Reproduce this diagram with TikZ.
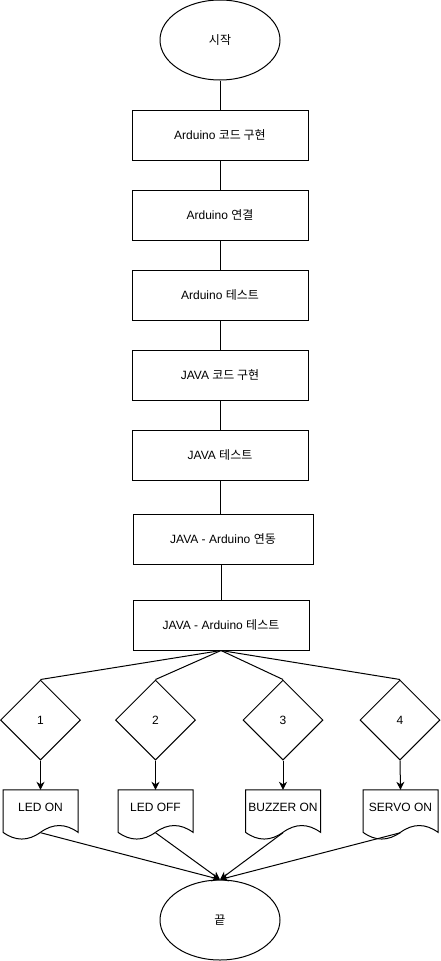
\documentclass[tikz,border=0pt]{standalone}
\usepackage{fontspec}
\setmainfont{Liberation Sans}
\newfontfamily\kr{Noto Sans CJK KR}
\usepackage{tikz}
\usetikzlibrary{shapes,arrows.meta}
\tikzstyle{terminal} = [ellipse, draw, line width=1pt, minimum width=120pt, minimum height=80pt, inner sep=0pt]
\tikzstyle{procbox} = [rectangle, draw, line width=1pt, minimum width=176pt, minimum height=50pt, inner sep=0pt, align=center]
\tikzstyle{decision} = [diamond, draw, line width=1pt, minimum width=80pt, minimum height=80pt, inner sep=0pt]
\tikzstyle{docbox} = [rectangle, minimum width=75pt, minimum height=35pt, inner sep=0pt, align=center]
\tikzstyle{plain} = [draw, line width=1pt]
\tikzstyle{line} = [draw, line width=1pt, -{Stealth[length=8pt, width=8pt, inset=2.5pt]}]
\newcommand{\docshape}[1]{%
  \draw [line width=1pt, shift={(#1.north)}] (-37.5,0) -- (37.5,0) -- (37.5,42.5)
    .. controls (25,33.5) and (12.5,33.5) .. (0,42.5)
    .. controls (-12.5,51.5) and (-25,51.5) .. (-37.5,42.5) -- cycle;}

\begin{document}
\begin{tikzpicture}[x=1pt, y=-1pt, font=\fontsize{12}{14}\selectfont]
\useasboundingbox (0,0) rectangle (441,961);

\node [terminal] at (220, 40) (start) {\kr 시작};

% steps

\node [procbox] at (220, 135) (ardcode) {Arduino {\kr 코드 구현}};
\node [procbox] at (220, 215) (ardconn) {Arduino {\kr 연결}};
\node [procbox] at (220, 295) (ardtest) {Arduino {\kr 테스트}};
\node [procbox] at (220, 375) (javacode) {JAVA {\kr 코드 구현}};
\node [procbox] at (220, 455) (javatest) {JAVA {\kr 테스트}};
\node [procbox, minimum width=180pt] at (223, 539) (link) {JAVA - Arduino {\kr 연동}};
\node [procbox] at (221, 625) (linktest) {JAVA - Arduino {\kr 테스트}};

\path [plain] (start.south) to (ardcode.north);
\path [plain] (ardcode.south) to (ardconn.north);
\path [plain] (ardconn.south) to (ardtest.north);
\path [plain] (ardtest.south) to (javacode.north);
\path [plain] (javacode.south) to (javatest.north);
\path [plain] (javatest.south) to (javatest.south |- link.north);
\path [plain] (link.south -| linktest.north) to (linktest.north);

% choices

\node [decision] at (40.5, 720) (one) {1};
\node [decision] at (155.5, 720) (two) {2};
\node [decision] at (283, 720) (three) {3};
\node [decision] at (400, 720) (four) {4};
\path [plain] (linktest.south) to (one.north);
\path [plain] (linktest.south) to (two.north);
\path [plain] (linktest.south) to (three.north);
\path [plain] (linktest.south) to (four.north);

\node [docbox] at (40.5, 807.5) (ledon) {LED ON};
\node [docbox] at (155.5, 807.5) (ledoff) {LED OFF};
\node [docbox] at (283, 807.5) (buzzer) {BUZZER ON};
\node [docbox] at (400.5, 807.5) (servo) {SERVO ON};
\docshape{ledon}
\docshape{ledoff}
\docshape{buzzer}
\docshape{servo}
\path [line] (one.south) to (ledon.north);
\path [line] (two.south) to (ledoff.north);
\path [line] (three.south) to (buzzer.north);
\path [line] (four.south) to (servo.north);

% end

\node [terminal] at (220, 920) (finish) {\kr 끝};
\path [line] ([yshift=-7.5pt]ledon.south) to (finish.north);
\path [line] ([yshift=-7.5pt]ledoff.south) to (finish.north);
\path [line] ([yshift=-7.5pt]buzzer.south) to (finish.north);
\path [line] ([yshift=-7.5pt]servo.south) to (finish.north);

\end{tikzpicture}
\end{document}
